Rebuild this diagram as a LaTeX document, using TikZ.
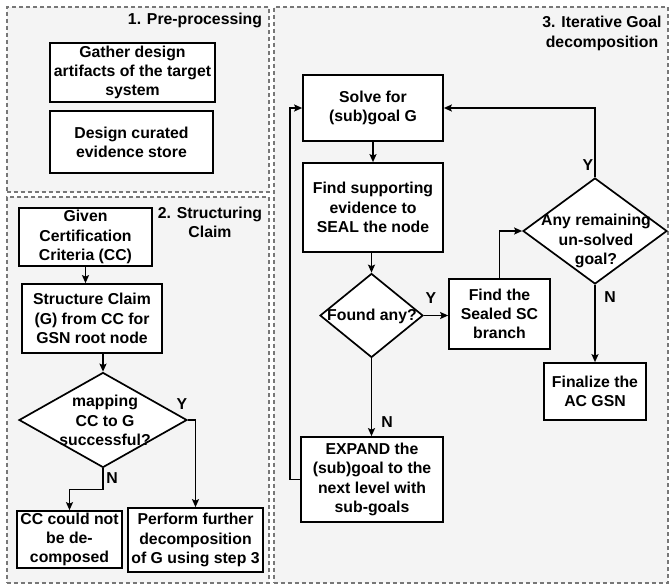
\documentclass[tikz,border=0pt]{standalone}
\usepackage{fontspec}
\setmainfont{Liberation Sans}
\usetikzlibrary{shapes.geometric,arrows.meta}
\definecolor{panelfill}{HTML}{F4F4F4}
\definecolor{paneldash}{HTML}{777777}
\begin{document}
\begin{tikzpicture}[x=1pt,y=-1pt,
  txt/.style={font=\bfseries\fontsize{15.8}{19.3}\selectfont, align=center, inner sep=0pt},
  panel/.style={draw=paneldash, fill=panelfill, line width=1.5pt, dash pattern=on 4pt off 3pt},
  box/.style={txt, draw=black, fill=white, line width=1.7pt},
  dia/.style={diamond, draw=black, fill=white, line width=1.7pt, inner sep=0pt},
  arr/.style={line width=1.7pt, -{Stealth[length=8pt,width=7pt,inset=1.5pt]}},
  lbl/.style={txt}]
\useasboundingbox (0,0) rectangle (669,584);
% panels
\node[panel, minimum width=262, minimum height=185, anchor=north west] (P1) at (6,6) {};
\node[panel, minimum width=262, minimum height=386, anchor=north west] (P2) at (6,196) {};
\node[panel, minimum width=394, minimum height=576, anchor=north west] (P3) at (273,6) {};
% titles
\node[txt] (T1) at (195,20) {1. Pre-processing};
\node[txt] (T2) at (210,222.5) {2. Structuring\\Claim};
\node[txt] (T3) at (602,33.5) {3. Iterative Goal\\decomposition};
% panel 1
\node[box, minimum width=165, minimum height=59] (A) at (132.5,72.5) {Gather design\\artifacts of the target\\system};
\node[box, minimum width=163, minimum height=62] (B) at (131.5,142) {Design curated\\evidence store};
% panel 2
\node[box, minimum width=133, minimum height=58] (C) at (85.5,237) {Given\\Certification\\Criteria (CC)};
\node[box, minimum width=140, minimum height=69] (D) at (92,318.5) {Structure Claim\\(G) from CC for\\GSN root node};
\node[dia, minimum width=168, minimum height=95] (E) at (103,420) {};
\node[txt] (Et) at (105,420.5) {mapping\\CC to G\\successful?};
\node[box, minimum width=105, minimum height=57] (F) at (69.5,539.5) {CC could not\\be de-\\composed};
\node[box, minimum width=135, minimum height=64] (G) at (195.5,540) {Perform further\\decomposition\\of G using step 3};
% panel 3
\node[box, minimum width=140, minimum height=66] (H) at (373,108) {Solve for\\(sub)goal G};
\node[box, minimum width=140, minimum height=89] (I) at (373,207.5) {Find supporting\\evidence to\\SEAL the node};
\node[dia, minimum width=103, minimum height=84] (J) at (371.5,315.5) {};
\node[txt] (Jt) at (372,316) {Found any?};
\node[box, minimum width=101, minimum height=70] (K) at (499.5,314) {Find the\\Sealed SC\\branch};
\node[dia, minimum width=144, minimum height=106] (L) at (595,231) {};
\node[txt] (Lt) at (596,241) {Any remaining\\un-solved\\goal?};
\node[box, minimum width=102, minimum height=57] (M) at (595,391.5) {Finalize the\\AC GSN};
\node[box, minimum width=142, minimum height=85] (N) at (372,479.5) {EXPAND the\\(sub)goal to the\\next level with\\sub-goals};
% connectors
\draw[arr] (C.south) -- (C.south |- D.north);
\draw[arr] (E.north |- D.south) -- (E.north);
\draw[arr] (E.south) -- ++(0,21) -| (F.north);
\draw[arr] (E.east) -| (G.north);
\node[lbl] (EY) at (182,404) {Y};
\node[lbl] (EN) at (112,478) {N};
\draw[arr] (H.south) -- (H.south |- I.north);
\draw[arr] (J.north |- I.south) -- (J.north);
\draw[arr] (J.east) -- (J.east -| K.west);
\draw[arr] (J.south) -- (J.south |- N.north);
\draw[arr] (K.north) |- (L.west);
\draw[arr] (L.north) |- (H.east);
\draw[arr] (L.south) -- (M.north);
\draw[arr] (N.west) -- ++(-10,0) |- (H.west);
\node[lbl] (JY) at (431,298) {Y};
\node[lbl] (JN) at (387,422) {N};
\node[lbl] (LY) at (588,165) {Y};
\node[lbl] (LN) at (610,297) {N};
\end{tikzpicture}
\end{document}
